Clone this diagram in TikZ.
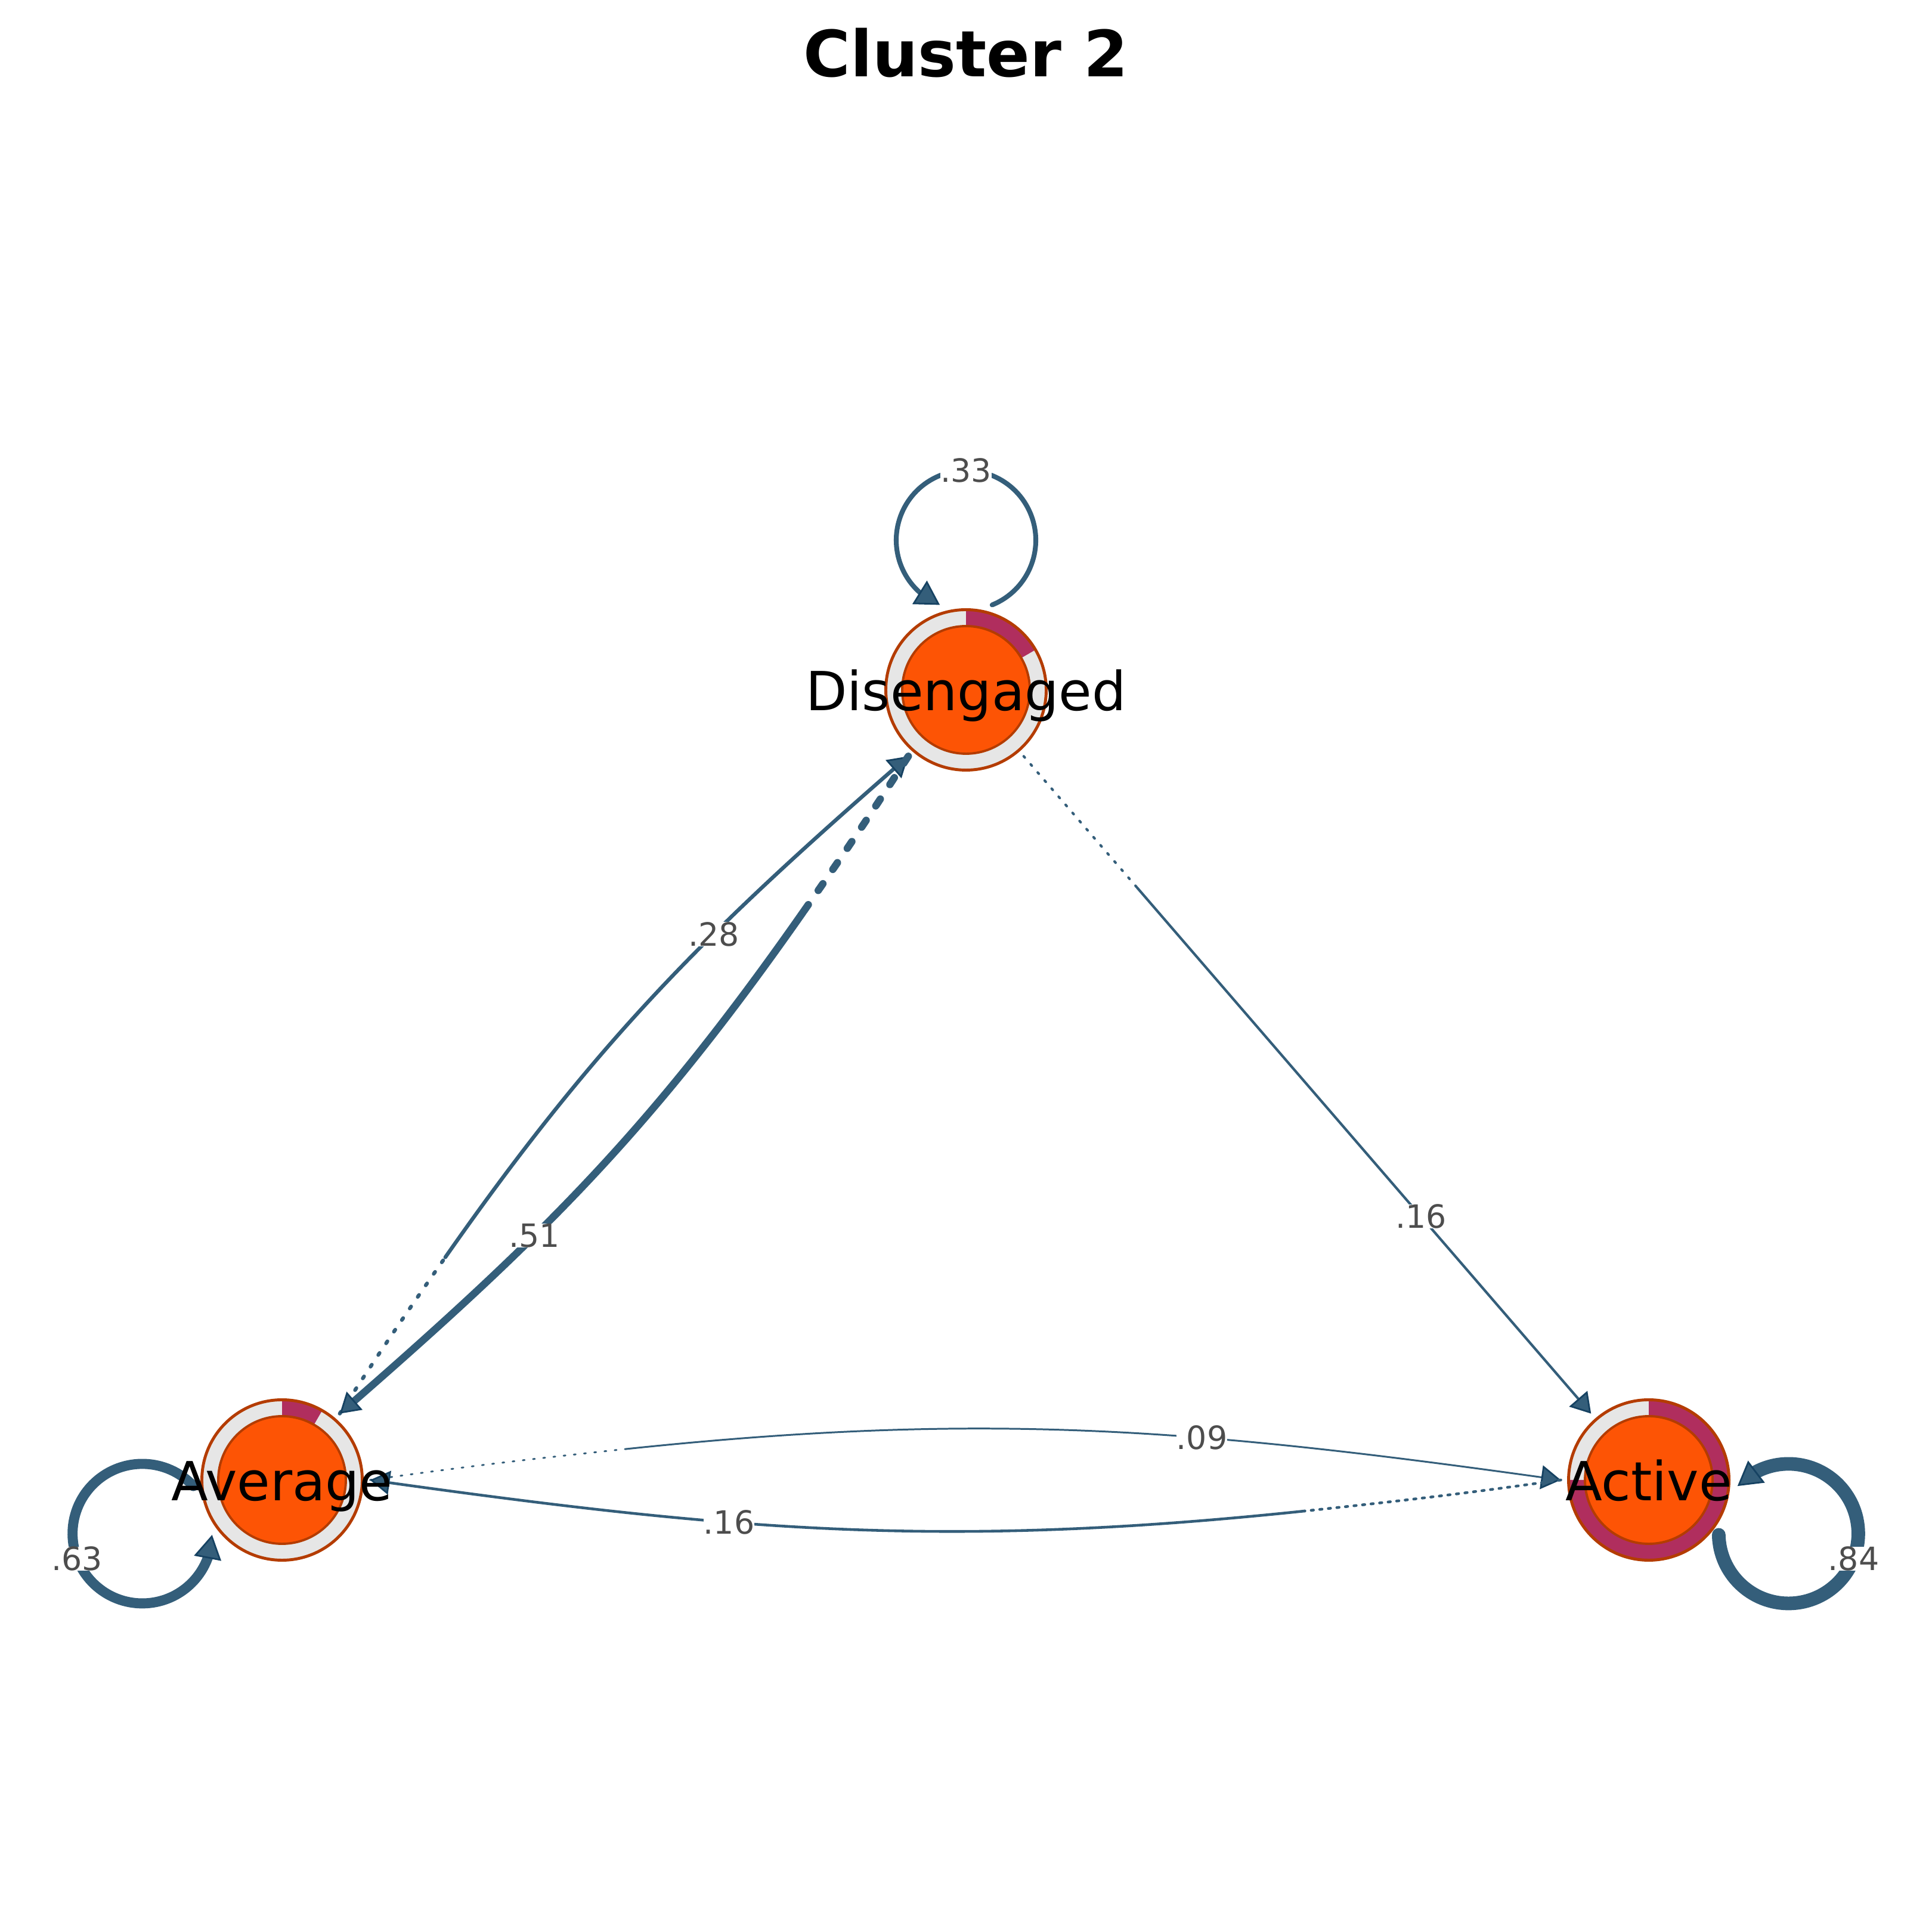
\documentclass[tikz,border=0pt]{standalone}
\usepackage{fontspec}
\setmainfont{DejaVu Sans}
\usetikzlibrary{arrows.meta,bending,positioning}

\definecolor{ringgray}{RGB}{230,230,230}
\definecolor{piered}{RGB}{176,46,94}
\definecolor{corefill}{RGB}{253,84,5}
\definecolor{rimbrown}{RGB}{180,60,0}
\definecolor{edgeblue}{RGB}{52,94,122}
\definecolor{edgedark}{RGB}{22,66,98}
\definecolor{labelgray}{RGB}{77,77,77}

\begin{document}
\begin{tikzpicture}[>={Triangle[length=0.33cm, width=0.40cm, fill=edgeblue, color=edgedark, line width=0.8pt]},
    statering/.style={circle, fill=ringgray, minimum size=2.69cm, inner sep=0pt, outer sep=0.13cm},
    rim/.style={draw=rimbrown, line width=1.4pt},
    core/.style={fill=corefill, draw=rimbrown, line width=1.1pt},
    statelabel/.style={font=\fontsize{25.7}{30}\selectfont, inner sep=0pt, text height=0.70cm, text depth=0pt},
    trans/.style={draw=edgeblue, line cap=round},
    elabel/.style={text=labelgray, font=\fontsize{15.3}{18}\selectfont, fill=white, inner sep=0pt},
    looptip/.style={-{Triangle[length=0.40cm, width=0.46cm, fill=edgeblue, color=edgedark, line width=0.8pt]}}]

    \fill[white] (0,0) rectangle (32.4,32.4);
    \useasboundingbox (0,0) rectangle (32.4,32.4);

    \node[font=\bfseries\fontsize{30.5}{36}\selectfont] (title) at (16.20,31.51) {Cluster 2};

    % states
    \node[statering] (dis) at (16.20,20.83) {};
    \node[statering] (avg) at (4.73,7.58) {};
    \node[statering] (act) at (27.65,7.58) {};

    \fill[piered] (dis.center) -- ++(90:1.345) arc[start angle=90, end angle=30, radius=1.345] -- cycle;
    \fill[piered] (avg.center) -- ++(90:1.345) arc[start angle=90, end angle=60, radius=1.345] -- cycle;
    \fill[piered] (act.center) -- ++(90:1.345) arc[start angle=90, end angle=-180, radius=1.345] -- cycle;

    \draw[rim] (dis.center) circle[radius=1.345];
    \draw[rim] (avg.center) circle[radius=1.345];
    \draw[rim] (act.center) circle[radius=1.345];
    \draw[core] (dis.center) circle[radius=1.07];
    \draw[core] (avg.center) circle[radius=1.07];
    \draw[core] (act.center) circle[radius=1.07];

    % Average -> Disengaged
    \path (avg.49) to[out=57,in=221] coordinate[pos=.2] (ad) (dis.229);
    \draw[trans, line width=1.8pt, dash pattern=on 1.1pt off 5.6pt] (avg.49) to[out=57,in=235] (ad);
    \draw[trans, line width=1.8pt, ->] (ad) to[out=55,in=221] node[elabel, pos=.625] (l28) {.28} (dis.229);

    % Disengaged -> Average
    \path (dis.229) to[out=237,in=41] coordinate[pos=.2] (da) (avg.49);
    \draw[trans, line width=3.5pt, dash pattern=on 3.9pt off 8.3pt] (dis.229) to[out=237,in=55] (da);
    \draw[trans, line width=3.5pt, ->] (da) to[out=235,in=41] node[elabel, pos=.625] (l51) {.51} (avg.49);

    % Disengaged -> Active
    \path (dis.311) -- coordinate[pos=.2] (dc) (act.131);
    \draw[trans, line width=1.2pt, dash pattern=on 0.8pt off 4.3pt] (dis.311) -- (dc);
    \draw[trans, line width=1.2pt, ->] (dc) -- node[elabel, pos=.625] (l16a) {.16} (act.131);

    % Average -> Active
    \path (avg.0) to[out=8,in=172] coordinate[pos=.2] (ac) (act.180);
    \draw[trans, line width=0.85pt, dash pattern=on 0.9pt off 4pt] (avg.0) to[out=8,in=186] (ac);
    \draw[trans, line width=0.85pt, ->] (ac) to[out=6,in=172] node[elabel, pos=.625] (l09) {.09} (act.180);

    % Active -> Average
    \path (act.180) to[out=188,in=-8] coordinate[pos=.2] (ca) (avg.0);
    \draw[trans, line width=1.3pt, dash pattern=on 1.1pt off 3pt] (act.180) to[out=188,in=6] (ca);
    \draw[trans, line width=1.3pt, ->] (ca) to[out=186,in=-8] node[elabel, pos=.625] (l16b) {.16} (avg.0);

    % self loops
    \coordinate (disloop) at ([shift={(90:2.51)}]dis.center);
    \coordinate (avgloop) at ([shift={(201:2.51)}]avg.center);
    \coordinate (actloop) at ([shift={(339:2.51)}]act.center);
    \draw[trans, line width=2.3pt, looptip] ([shift={(292:1.17)}]disloop) arc[start angle=292, end angle=608, radius=1.17];
    \draw[trans, line width=4.8pt, looptip] ([shift={(43:1.17)}]avgloop) arc[start angle=43, end angle=359, radius=1.17];
    \draw[trans, line width=6.5pt, looptip] ([shift={(181:1.17)}]actloop) arc[start angle=181, end angle=497, radius=1.17];
    \node[elabel] (l33) at ([shift={(90:1.17)}]disloop) {.33};
    \node[elabel] (l63) at ([shift={(201:1.17)}]avgloop) {.63};
    \node[elabel] (l84) at ([shift={(339:1.17)}]actloop) {.84};

    % state names
    \node[statelabel] (dislab) at (dis.center) {Disengaged};
    \node[statelabel] (avglab) at (avg.center) {Average};
    \node[statelabel] (actlab) at (act.center) {Active};

\end{tikzpicture}
\end{document}
